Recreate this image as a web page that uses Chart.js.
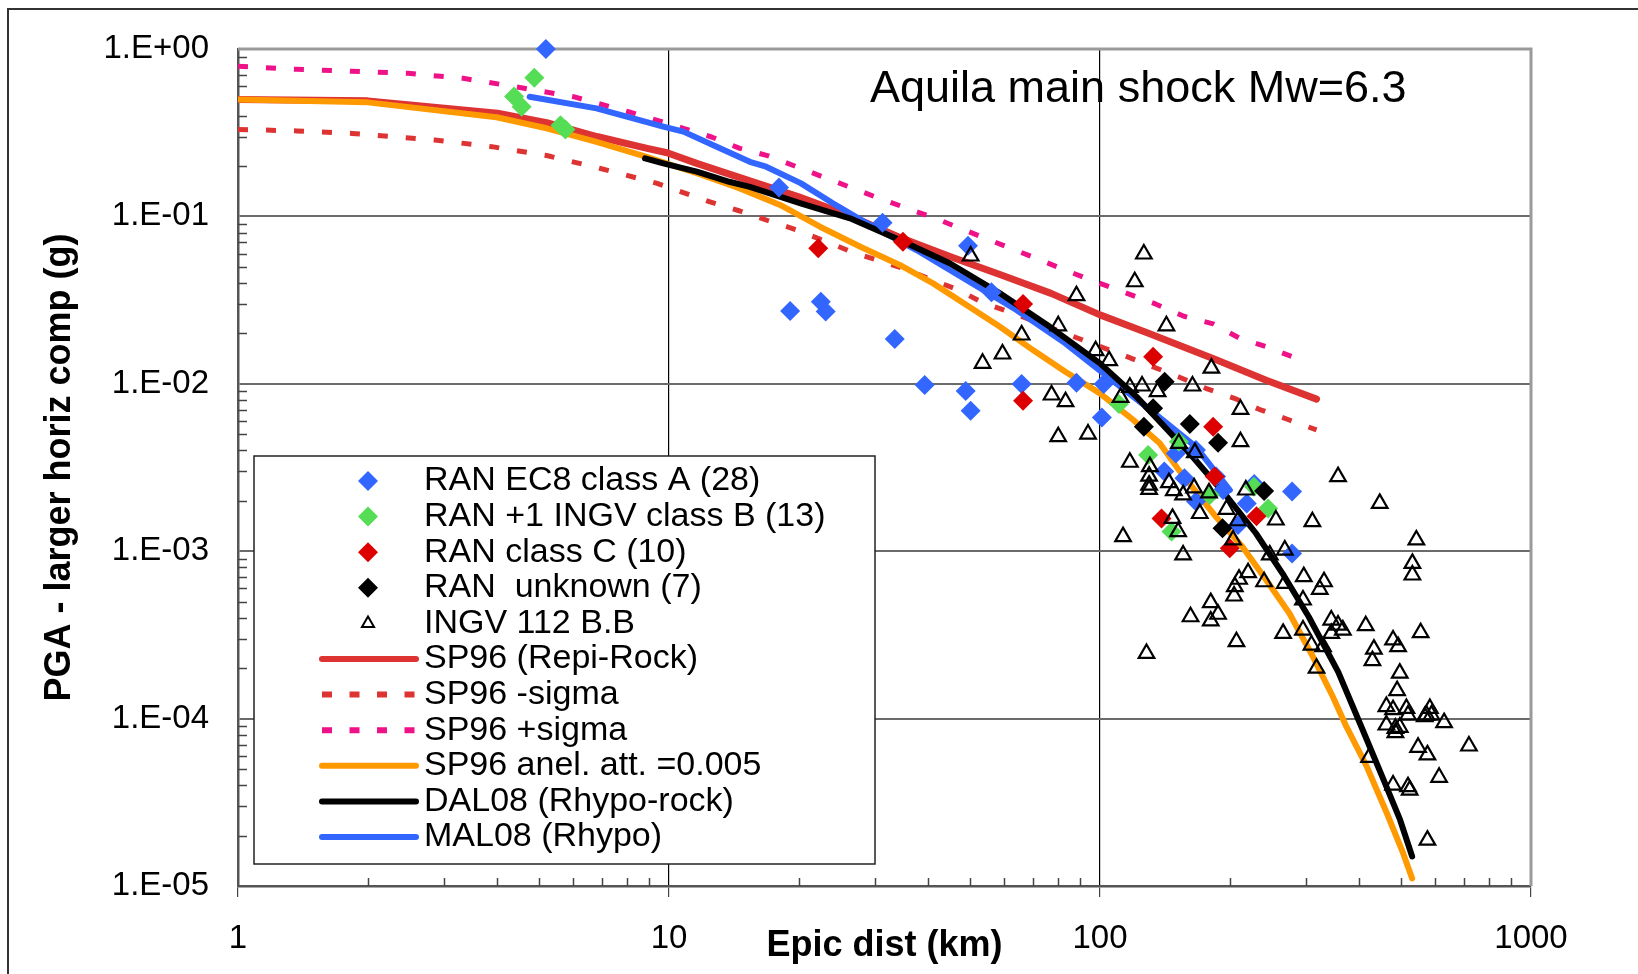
<!DOCTYPE html>
<html>
<head>
<meta charset="utf-8">
<script src="https://cdn.jsdelivr.net/npm/chart.js@4.4.1/dist/chart.umd.min.js"></script>
<style>
  html, body { margin: 0; padding: 0; background: #fff; }
  #wrap { width: 1638px; height: 974px; position: relative; }
</style>
</head>
<body>
<div id="wrap"><canvas id="chartPGA"></canvas></div>
<script>
// valeurs : distance epicentrale (km) et PGA (g)
const classA_dist = [5.18, 18.0, 31.3, 49.4, 19.1, 22.5, 23.1, 33.4, 56.0, 39.2, 48.8, 50.1, 65.8, 88.2,
  102, 101, 150, 167, 141, 157, 186, 193, 167, 219, 209, 279, 279, 228];
const classA_pga = [1.0, 0.149, 0.0917, 0.0668, 0.0272, 0.0309, 0.027, 0.0185, 0.0352, 0.00984, 0.00906, 0.0069,
  0.00997, 0.01016, 0.00997, 0.0063, 0.00384, 0.00402, 0.00299, 0.00273, 0.00279, 0.00232, 0.00198, 0.00193,
  0.001435, 0.00227, 0.00097, 0.00252];

const classB_dist = [4.87, 4.37, 4.55, 5.6, 5.75, 110.6, 152.4, 129.3, 227.6, 245.5, 179.8, 146.5];
const classB_pga = [0.674, 0.52, 0.452, 0.35, 0.33, 0.00757, 0.00451, 0.00376, 0.00243, 0.0018, 0.00217, 0.00131];

const classC_dist = [22.2, 34.9, 66.3, 66.3, 132.8, 183, 184.6, 138.9, 230.7, 200];
const classC_pga = [0.0645, 0.0706, 0.030, 0.00793, 0.01452, 0.00554, 0.00279, 0.00157, 0.00162, 0.00104];

const unknown_dist = [141.3, 132.8, 126.4, 161.6, 187.9, 240.3, 192.4];
const unknown_pga = [0.0103, 0.00714, 0.00554, 0.00575, 0.00445, 0.00229, 0.00137];

const ingv_dist = [50.1, 126.4, 120.4, 88.2, 142.6, 80, 65.8, 59.4, 53.4, 97.7, 105, 181.3, 77.2, 83.2, 117.3,
  125.2, 136, 163.9, 111.6, 80, 93.8, 152.4, 211.8, 211.8, 117.3, 166, 130.5, 356.7, 130, 130,
  130, 144.5, 148.3, 155.9, 165.3, 179, 218, 445.7, 170.4, 196.6, 209, 147.3, 151.8, 255.9, 311,
  113.1, 203.6, 155.9, 542, 247.7, 268.4, 530.6, 530.6, 220.6, 210.2, 205.5, 204.7, 240.3, 268.4, 297,
  331, 323.5, 295.8, 180.7, 187.9, 180.7, 162.2, 207.3, 128.2, 295.8, 266, 344, 356.7, 366, 344,
  413.6, 478.6, 491.6, 432, 428.6, 554.6, 309.5, 329.2, 318, 496, 489, 461.8, 478.6, 514, 518.4,
  461.8, 484.6, 496, 484.6, 582.6, 572, 587.5, 566.8, 628.6, 717.8, 547, 575, 612, 421, 478.6,
  518.4, 523, 575];
const ingv_pga = [0.058, 0.0596, 0.0407, 0.0336, 0.0222, 0.0222, 0.01956, 0.01507, 0.01326, 0.01577, 0.01375,
  0.0124, 0.00857, 0.00782, 0.00953, 0.0097, 0.00898, 0.0097, 0.0083, 0.00483, 0.00501, 0.00441, 0.00704,
  0.00451, 0.0034, 0.00388, 0.0032, 0.00279, 0.00281, 0.00248, 0.00234, 0.00257, 0.0023, 0.00217, 0.00239,
  0.00223, 0.00232, 0.00193, 0.00168, 0.00178, 0.00152, 0.00157, 0.001308, 0.001536, 0.0015, 0.001222,
  0.001167, 0.00095, 0.001167, 0.00095, 0.001016, 0.000846, 0.000721, 0.000744, 0.00068, 0.000614, 0.00054,
  0.000657, 0.000643, 0.000705, 0.000657, 0.000592, 0.000511, 0.000493, 0.00042, 0.000383, 0.000406,
  0.000288, 0.000245, 0.000338, 0.000323, 0.000388, 0.000362, 0.000338, 0.000323, 0.000359, 0.000295,
  0.000269, 0.00026, 0.000222, 0.000326, 0.000275, 0.000269, 0.0002, 0.000187, 0.000147, 0.000118, 0.000113,
  0.000115, 0.000105, 9.16e-5, 8.75e-5, 8.87e-5, 8.24e-5, 0.000115, 0.000105, 0.000105, 0.0001026, 9.46e-5,
  6.86e-5, 6.74e-5, 6.07e-5, 4.46e-5, 5.87e-5, 4.01e-5, 3.92e-5, 3.74e-5, 1.88e-5];

// courbes
const sp96_dist = [1, 2, 4, 5.2, 6.8, 8.9, 9.9, 11.6, 13.8, 20, 26, 34, 45, 59, 77, 100, 130, 186, 243, 318];
const sp96_pga = [0.50, 0.49, 0.413, 0.363, 0.30, 0.255, 0.240, 0.2075, 0.179, 0.131, 0.102, 0.0756, 0.0574,
  0.0447, 0.0347, 0.0258, 0.020, 0.0139, 0.0105, 0.0081];

const sp96m_dist = [1, 1.37, 1.84, 2.86, 3.88, 5.2, 6.9, 9.35, 12.4, 14.6, 17.0, 19.8, 26.5, 34.8, 47, 53.7, 63,
  83, 113, 152, 176, 205, 234, 272, 318];
const sp96m_pga = [0.331, 0.324, 0.313, 0.286, 0.261, 0.231, 0.194, 0.158, 0.1225, 0.1077, 0.0942, 0.083, 0.0615,
  0.049, 0.0363, 0.0303, 0.0264, 0.020, 0.01486, 0.01102, 0.0094, 0.00819, 0.00704, 0.00614, 0.0053];

const sp96p_dist = [1, 1.37, 1.84, 2.48, 3.33, 4.39, 6.0, 8.05, 10.8, 12.6, 14.6, 17.0, 22.7, 30.8, 41.4, 55.4,
  74.4, 86, 100, 134.5, 156, 183, 210, 243, 288];
const sp96p_pga = [0.79, 0.756, 0.736, 0.716, 0.668, 0.596, 0.519, 0.422, 0.336, 0.297, 0.255, 0.23, 0.1726,
  0.128, 0.0975, 0.0723, 0.0536, 0.0461, 0.0398, 0.030, 0.0254, 0.0228, 0.0188, 0.01666, 0.01407];

const anel_dist = [1, 2, 3.98, 5.2, 6.79, 8.87, 11.6, 14.6, 18.1, 22.4, 27.8, 34.3, 41, 49, 58.6, 69.9, 83.1,
  100, 119.5, 137.6, 152.4, 186, 214, 243, 275, 312, 347, 373, 416, 463, 505, 530];
const anel_pga = [0.5, 0.48, 0.391, 0.336, 0.279, 0.227, 0.181, 0.147, 0.117, 0.0868, 0.0659, 0.0513, 0.0398,
  0.0296, 0.0219, 0.0159, 0.0118, 0.00877, 0.00608, 0.00441, 0.00305, 0.0016, 0.001064, 0.000673, 0.000426,
  0.000234, 0.000135, 8.95e-5, 5.16e-5, 2.72e-5, 1.57e-5, 1.11e-5];

const dal08_dist = [8.8, 9.7, 11.6, 13.8, 15.4, 20.2, 26.3, 34.3, 44.8, 58.6, 76.5, 100, 121.5, 164, 197, 230,
  265, 305, 357, 407, 455, 497, 530];
const dal08_pga = [0.222, 0.2075, 0.185, 0.161, 0.150, 0.1197, 0.0974, 0.0723, 0.0525, 0.0347, 0.0219, 0.01324,
  0.00838, 0.00367, 0.00212, 0.00128, 0.000738, 0.000406, 0.00019, 8.55e-5, 4.3e-5, 2.48e-5, 1.5e-5];

const mal08_dist = [4.75, 6.79, 9.7, 10.8, 12.9, 15.4, 16.8, 20.2, 24.0, 28.8, 37.5, 49, 64, 83.1, 109, 131, 167, 200];
const mal08_pga = [0.519, 0.442, 0.344, 0.321, 0.261, 0.212, 0.198, 0.158, 0.1197, 0.091, 0.063, 0.0417, 0.0276,
  0.01746, 0.01007, 0.00697, 0.0042, 0.00232];

const xTicks = [1, 10, 100, 1000];
const yTicks = [1, 0.1, 0.01, 0.001, 0.0001, 0.00001];

Chart.defaults.font.family = '"Liberation Sans", Arial, sans-serif';
Chart.defaults.color = '#000';

function pts(xs, ys) {
  return xs.map(function (x, i) { return { x: x, y: ys[i] }; });
}
function isDecade(v) {
  const e = Math.log10(v);
  return Math.abs(e - Math.round(e)) < 1e-6;
}
function expLabel(v) {
  const n = Math.round(Math.log10(v));
  return '1.E' + (n < 0 ? '-' : '+') + String(Math.abs(n)).padStart(2, '0');
}

function marker(label, xs, ys, style, color, order) {
  return {
    label: label, data: pts(xs, ys), showLine: false, pointStyle: style,
    pointRadius: style === 'triangle' ? 9 : 10,
    backgroundColor: style === 'triangle' ? 'rgba(0,0,0,0)' : color,
    borderColor: color, borderWidth: style === 'triangle' ? 2.2 : 0,
    clip: false, order: order
  };
}
function curve(label, xs, ys, color, width, dash, order) {
  return {
    label: label, data: pts(xs, ys), showLine: true, pointRadius: 0,
    borderColor: color, backgroundColor: color, borderWidth: width,
    borderDash: dash, borderCapStyle: dash.length ? 'butt' : 'round', borderJoinStyle: 'round',
    tension: 0, fill: false, order: order
  };
}

const datasets = [
  marker('RAN EC8 class A (28)', classA_dist, classA_pga, 'rectRot', '#3366ff', 4),
  marker('RAN +1 INGV class B (13)', classB_dist, classB_pga, 'rectRot', '#55dd55', 3),
  marker('RAN class C (10)', classC_dist, classC_pga, 'rectRot', '#dd0000', 1),
  marker('RAN  unknown (7)', unknown_dist, unknown_pga, 'rectRot', '#000000', 2),
  marker('INGV 112 B.B', ingv_dist, ingv_pga, 'triangle', '#000000', 0),
  curve('SP96 (Repi-Rock)', sp96_dist, sp96_pga, '#dd3333', 7, [], 13),
  curve('SP96 -sigma', sp96m_dist, sp96m_pga, '#dd3333', 5, [10, 18], 15),
  curve('SP96 +sigma', sp96p_dist, sp96p_pga, '#ee1188', 5, [10, 18], 14),
  curve('SP96 anel. att. =0.005', anel_dist, anel_pga, '#ff9900', 6, [], 12),
  curve('DAL08 (Rhypo-rock)', dal08_dist, dal08_pga, '#000000', 6, [], 10),
  curve('MAL08 (Rhypo)', mal08_dist, mal08_pga, '#3366ff', 6, [], 11)
];

// cadre, petites graduations, titre et legende
const decor = {
  id: 'decor',
  beforeDraw: function (chart) {
    const ctx = chart.ctx;
    ctx.save();
    ctx.fillStyle = '#fff';
    ctx.fillRect(0, 0, chart.width, chart.height);
    ctx.strokeStyle = '#333';
    ctx.lineWidth = 2;
    ctx.beginPath();
    ctx.moveTo(8, chart.height);
    ctx.lineTo(8, 9);
    ctx.lineTo(chart.width, 9);
    ctx.stroke();
    ctx.restore();
  },
  beforeDatasetsDraw: function (chart) {
    const ctx = chart.ctx, a = chart.chartArea;
    const xs = chart.scales.x, ys = chart.scales.y;
    ctx.save();
    ctx.strokeStyle = '#9a9a9a';
    ctx.lineWidth = 3;
    ctx.beginPath();
    ctx.moveTo(a.left, a.top);
    ctx.lineTo(a.right, a.top);
    ctx.lineTo(a.right, a.bottom);
    ctx.stroke();
    ctx.strokeStyle = '#444';
    ctx.lineWidth = 1.5;
    ctx.beginPath();
    for (let k = 0; k < xTicks.length - 1; k++) {
      for (let m = 2; m <= 9; m++) {
        const px = Math.round(xs.getPixelForValue(m * xTicks[k])) + 0.5;
        ctx.moveTo(px, a.bottom);
        ctx.lineTo(px, a.bottom - 8);
      }
    }
    for (let k = 1; k < yTicks.length; k++) {
      for (let m = 2; m <= 9; m++) {
        const py = Math.round(ys.getPixelForValue(m * yTicks[k])) + 0.5;
        ctx.moveTo(a.left, py);
        ctx.lineTo(a.left + 9, py);
      }
    }
    ctx.stroke();
    ctx.restore();
  },
  afterDraw: function (chart) {
    const ctx = chart.ctx, a = chart.chartArea;
    ctx.save();
    ctx.fillStyle = '#000';
    ctx.font = '45px "Liberation Sans", Arial, sans-serif';
    ctx.textBaseline = 'alphabetic';
    ctx.fillText('Aquila main shock Mw=6.3', a.left + 632, a.top + 53);

    // legende
    const bx = a.left + 16, by = a.top + 407, bw = 621, bh = 408;
    ctx.fillStyle = '#fff';
    ctx.fillRect(bx, by, bw, bh);
    ctx.strokeStyle = '#222';
    ctx.lineWidth = 1.5;
    ctx.strokeRect(bx, by, bw, bh);
    ctx.font = '34px "Liberation Sans", Arial, sans-serif';
    ctx.textBaseline = 'middle';
    chart.data.datasets.forEach(function (ds, i) {
      const y = by + 25 + i * 35.6;
      const mx = bx + 114;
      if (ds.showLine) {
        ctx.save();
        ctx.strokeStyle = ds.borderColor;
        ctx.lineWidth = 6;
        ctx.lineCap = ds.borderDash.length ? 'butt' : 'round';
        ctx.setLineDash(ds.borderDash.length ? [10, 17.5] : []);
        ctx.beginPath();
        ctx.moveTo(bx + 68, y);
        ctx.lineTo(bx + 162, y);
        ctx.stroke();
        ctx.restore();
      } else if (ds.pointStyle === 'triangle') {
        const r = 7;
        ctx.save();
        ctx.strokeStyle = ds.borderColor;
        ctx.lineWidth = 2;
        ctx.beginPath();
        ctx.moveTo(mx, y - r);
        ctx.lineTo(mx + 0.866 * r, y + 0.5 * r);
        ctx.lineTo(mx - 0.866 * r, y + 0.5 * r);
        ctx.closePath();
        ctx.stroke();
        ctx.restore();
      } else {
        const r = 10;
        ctx.save();
        ctx.fillStyle = ds.backgroundColor;
        ctx.beginPath();
        ctx.moveTo(mx - r, y);
        ctx.lineTo(mx, y - r);
        ctx.lineTo(mx + r, y);
        ctx.lineTo(mx, y + r);
        ctx.closePath();
        ctx.fill();
        ctx.restore();
      }
      ctx.fillStyle = '#000';
      ctx.fillText(ds.label, bx + 170, y);
    });
    ctx.restore();
  }
};

document.addEventListener('DOMContentLoaded', function () {
  new Chart(document.getElementById('chartPGA'), {
    type: 'scatter',
    data: { datasets: datasets },
    options: {
      responsive: true,
      maintainAspectRatio: false,
      animation: false,
      events: [],
      layout: { padding: { left: 0, top: 49, right: 107, bottom: 0 } },
      plugins: {
        legend: { display: false },
        tooltip: { enabled: false }
      },
      scales: {
        x: {
          type: 'logarithmic',
          min: xTicks[0],
          max: xTicks[xTicks.length - 1],
          afterFit: function (s) { s.height = 88; },
          border: { display: true, color: '#555', width: 2.5 },
          grid: {
            lineWidth: 1.2,
            tickLength: 11,
            color: function (c) {
              const v = c.tick ? c.tick.value : 0;
              return (isDecade(v) && v > xTicks[0] && v < xTicks[xTicks.length - 1]) ? '#000' : 'rgba(0,0,0,0)';
            },
            tickColor: function (c) {
              return (c.tick && isDecade(c.tick.value)) ? '#444' : 'rgba(0,0,0,0)';
            }
          },
          ticks: {
            autoSkip: false, maxRotation: 0, minRotation: 0, padding: 22,
            font: { size: 33 },
            callback: function (v) { return isDecade(v) ? String(Math.round(v)) : ''; }
          },
          title: {
            display: true, text: 'Epic dist (km)',
            font: { size: 36, weight: 'bold' },
            padding: { top: 0, bottom: 6 }
          }
        },
        y: {
          type: 'logarithmic',
          min: yTicks[yTicks.length - 1],
          max: yTicks[0],
          afterFit: function (s) { s.width = 238; },
          border: { display: true, color: '#555', width: 2.5 },
          grid: {
            lineWidth: 2,
            drawTicks: false,
            color: function (c) {
              const v = c.tick ? c.tick.value : 0;
              return (isDecade(v) && v > yTicks[yTicks.length - 1] * 1.01 && v < yTicks[0] * 0.99) ? '#6a6a6a' : 'rgba(0,0,0,0)';
            }
          },
          ticks: {
            autoSkip: false, padding: 29,
            font: { size: 33 },
            callback: function (v) { return isDecade(v) ? expLabel(v) : ''; }
          },
          title: {
            display: true, text: 'PGA - larger horiz comp (g)',
            font: { size: 36, weight: 'bold' },
            padding: { top: 38, bottom: 0 }
          }
        }
      }
    },
    plugins: [decor]
  });
});
</script>
</body>
</html>
